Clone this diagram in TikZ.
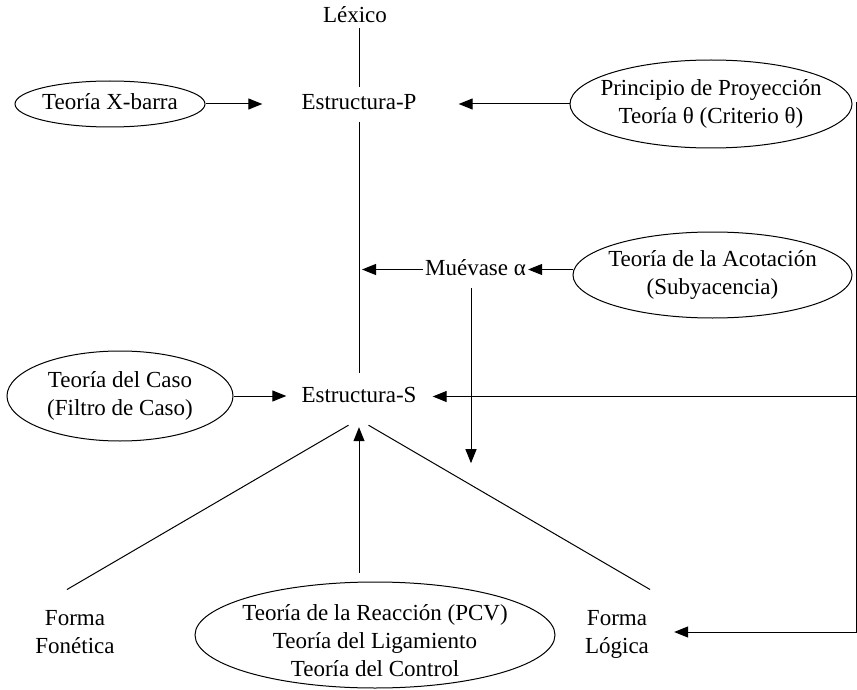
\documentclass[tikz,border=0pt]{standalone}
\usepackage{fontspec}
\setmainfont{Liberation Serif}
\usetikzlibrary{shapes.geometric,arrows.meta,calc}
\newcommand{\ovaltext}[2][-6.5pt]{\raisebox{#1}[0pt][0pt]{\makebox[0pt]{\begin{tabular}{@{}c@{}}#2\end{tabular}}}}
\begin{document}
\begin{tikzpicture}[x=1pt,y=-1pt,
  font=\fontsize{23}{28}\selectfont,
  txt/.style={inner sep=0pt, text height=16pt, text depth=5pt},
  two/.style={inner sep=0pt, align=center, anchor=north},
  oval/.style={draw, ellipse, inner sep=0pt, line width=1pt},
  ln/.style={line width=1pt},
  arr/.style={line width=1pt, -{Triangle[length=14pt,width=11pt]}}]
\useasboundingbox (0,0) rectangle (857,690);
% text nodes
\node[txt] (lex) at (355,17.5) {Léxico};
\node[txt, minimum height=34pt] (ep) at (359,104.5) {Estructura-P};
\node[txt, minimum height=47pt] (es) at (359,396.5) {Estructura-S};
\node[txt, inner xsep=2pt] (mv) at (475.5,269.5) {Muévase α};
\node[two] (ff) at (75,610.5) {Forma\\Fonética};
\node[two] (fl) at (617,610.5) {Forma\\Lógica};
% ellipses
\node[oval, minimum width=190pt, minimum height=46pt] (xbar) at (110,104) {\ovaltext{Teoría X-barra}};
\node[oval, minimum width=282pt, minimum height=88pt] (pp) at (711,104) {\ovaltext{Principio de Proyección\\Teoría θ (Criterio θ)}};
\node[oval, minimum width=279pt, minimum height=86pt] (ac) at (712.5,275) {\ovaltext{Teoría de la Acotación\\(Subyacencia)}};
\node[oval, minimum width=226pt, minimum height=90pt] (caso) at (120,396) {\ovaltext{Teoría del Caso\\(Filtro de Caso)}};
\node[oval, minimum width=360pt, minimum height=106pt] (bot) at (375,635) {\ovaltext[-14pt]{Teoría de la Reacción (PCV)\\Teoría del Ligamiento\\Teoría del Control}};
% connectors
\draw[ln] (lex.south -| ep.north) -- (ep.north);
\draw[ln] (ep.south) -- (es.north);
\draw[arr] (xbar.east) -- ($(ep.west |- xbar.east)+(-39,0)$);
\draw[arr] (pp.west) -- ($(ep.east |- pp.west)+(42,0)$);
\draw[arr, shorten >=3pt] (mv.west) -- (mv.west -| ep.south);
\draw[arr] (ac.west |- mv.east) -- (mv.east);
\draw[arr] ($(mv.south)+(-4.5,8)$) -- ++(0,175);
\draw[arr] (caso.east) -- ($(es.west |- caso.east)+(-15,0)$);
\coordinate (rtop) at ($(pp.east)+(4,-2)$);
\draw[arr] (rtop) -- ($(rtop |- fl.north)+(0,21.5)$) -- ($(fl.north east)+(25,21.5)$);
\draw[arr] (rtop |- es.east) -- ($(es.east)+(16,0)$);
\draw[arr, shorten >=7pt] ($(bot.north -| es.south)+(0,-9)$) -- (es.south);
\draw[ln] ($(es.south)+(-10.5,5)$) -- ($(ff.north)+(-8,-21)$);
\draw[ln] ($(es.south)+(9.5,5)$) -- ($(fl.north)+(33,-21)$);
\end{tikzpicture}
\end{document}
